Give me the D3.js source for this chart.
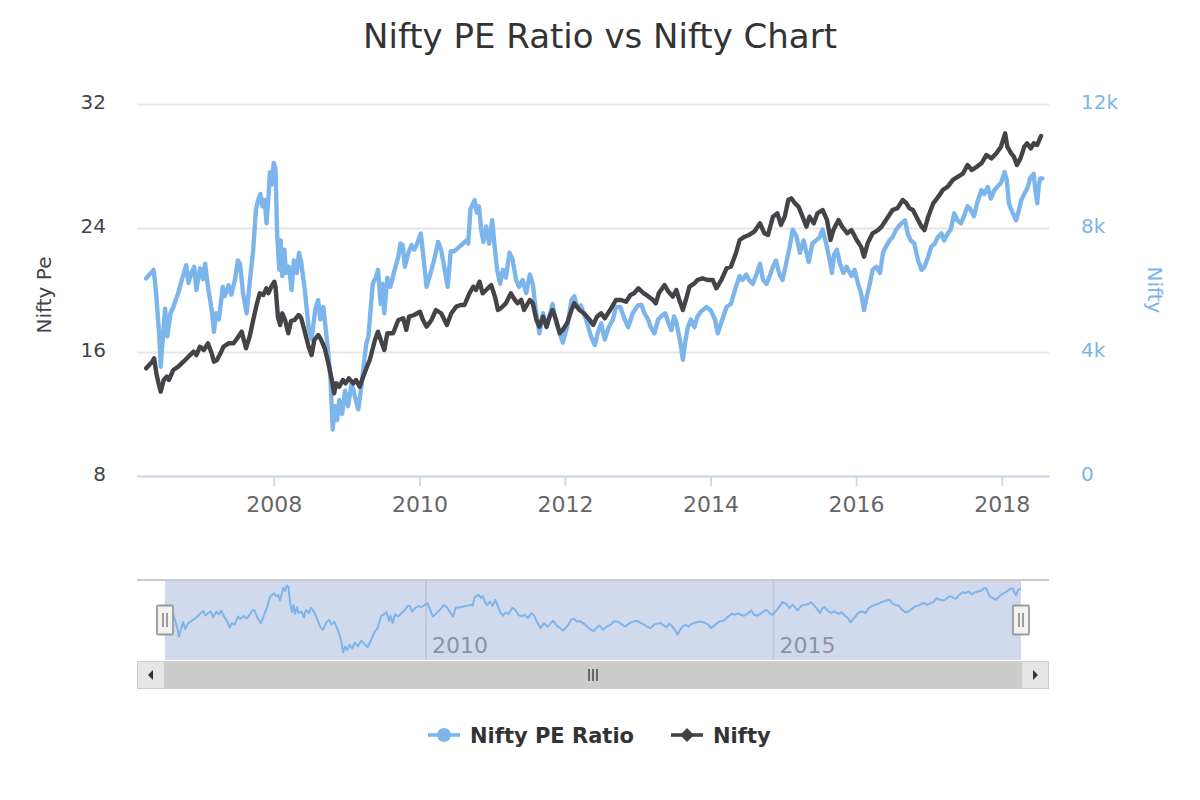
<!DOCTYPE html>
<html><head><meta charset="utf-8">
<script src="https://cdn.jsdelivr.net/npm/d3@7/dist/d3.min.js"></script>
<style>
body{margin:0;background:#fff;}
text{font-family:"DejaVu Sans",Verdana,sans-serif;}
</style>
</head><body>
<svg id="chart" width="1200" height="800"></svg>
<script>
// ---------------- DATA ----------------
const chartTitle = "Nifty PE Ratio vs Nifty Chart";
const seriesNames = ["Nifty PE Ratio", "Nifty"];
const leftAxisTitle = "Nifty Pe";
const rightAxisTitle = "Nifty";

const peDates = [
"2006-04-01","2006-05-08","2006-05-15","2006-05-22","2006-06-06","2006-06-13","2006-06-24","2006-07-05","2006-07-16","2006-08-01","2006-08-15","2006-09-09","2006-09-27","2006-10-19","2006-10-30","2006-11-14","2006-11-28","2006-12-09","2006-12-27",
"2007-01-11","2007-01-22","2007-02-05","2007-02-24","2007-03-07","2007-03-18","2007-04-01","2007-04-20","2007-04-30","2007-05-19","2007-06-02","2007-06-21","2007-07-05","2007-07-16","2007-07-31","2007-08-18","2007-09-02","2007-09-20","2007-10-04","2007-10-15","2007-10-26","2007-11-06","2007-11-17","2007-11-26","2007-12-05","2007-12-13","2007-12-23",
"2008-01-01","2008-01-10","2008-01-18","2008-01-29","2008-02-05","2008-02-13","2008-02-24","2008-03-02","2008-03-17","2008-03-31","2008-04-11","2008-04-26","2008-05-07","2008-05-18","2008-06-05","2008-06-24","2008-07-09","2008-07-27","2008-08-11","2008-08-22","2008-09-06","2008-09-17","2008-10-01","2008-10-12","2008-10-23","2008-11-03","2008-11-14","2008-11-25","2008-12-09","2008-12-24",
"2009-01-08","2009-01-26","2009-02-10","2009-02-28","2009-03-15","2009-03-29","2009-04-09","2009-04-20","2009-05-12","2009-05-27","2009-06-07","2009-06-21","2009-06-29","2009-07-09","2009-07-24","2009-08-08","2009-08-30","2009-09-17","2009-09-28","2009-10-09","2009-10-20","2009-11-07","2009-11-22","2009-12-06","2009-12-21",
"2010-01-08","2010-01-19","2010-02-06","2010-02-24","2010-03-15","2010-04-05","2010-04-20","2010-05-08","2010-05-23","2010-06-07","2010-06-25","2010-07-13","2010-08-08","2010-08-26","2010-09-03","2010-09-14","2010-10-05","2010-10-16","2010-10-27","2010-11-07","2010-11-18","2010-12-02","2010-12-17",
"2011-01-01","2011-01-12","2011-01-26","2011-02-10","2011-02-24","2011-03-11","2011-03-29","2011-04-13","2011-05-01","2011-05-16","2011-06-03","2011-06-21","2011-07-09","2011-07-24","2011-08-08","2011-08-26","2011-09-13","2011-10-01","2011-10-16","2011-10-31","2011-11-18","2011-12-06","2011-12-21",
"2012-01-12","2012-02-03","2012-02-17","2012-03-03","2012-03-21","2012-04-16","2012-05-11","2012-05-30","2012-06-13","2012-07-01","2012-07-19","2012-08-08","2012-08-29","2012-09-13","2012-10-05","2012-10-27","2012-11-14","2012-12-06",
"2013-01-01","2013-01-19","2013-02-03","2013-02-21","2013-03-07","2013-03-25","2013-04-13","2013-04-27","2013-05-19","2013-06-03","2013-06-18","2013-07-02","2013-07-13","2013-07-31","2013-08-15","2013-08-26","2013-09-09","2013-09-24","2013-10-12","2013-10-27","2013-11-14","2013-12-10",
"2014-01-01","2014-01-23","2014-02-06","2014-02-24","2014-03-22","2014-04-13","2014-05-08","2014-05-27","2014-06-10","2014-06-29","2014-07-13","2014-07-31","2014-08-19","2014-09-06","2014-09-21","2014-10-09","2014-10-27","2014-11-10","2014-11-25","2014-12-13","2014-12-28",
"2015-01-15","2015-02-02","2015-02-17","2015-03-07","2015-03-25","2015-04-13","2015-05-08","2015-05-27","2015-07-02","2015-07-17","2015-08-04","2015-08-22","2015-09-02","2015-09-13","2015-09-27","2015-10-12","2015-10-30","2015-11-14","2015-12-09","2015-12-24",
"2016-01-11","2016-01-26","2016-02-10","2016-02-24","2016-03-10","2016-03-24","2016-04-12","2016-04-30","2016-05-15","2016-05-30","2016-06-17","2016-07-02","2016-07-20","2016-08-15","2016-09-02","2016-09-17","2016-10-01","2016-10-19","2016-11-07","2016-11-25","2016-12-09","2016-12-28",
"2017-01-12","2017-01-30","2017-02-14","2017-03-04","2017-03-18","2017-04-05","2017-04-20","2017-05-08","2017-05-23","2017-06-10","2017-06-25","2017-07-13","2017-07-28","2017-08-15","2017-08-30","2017-09-21","2017-10-05","2017-10-23","2017-11-07","2017-11-25","2017-12-09","2017-12-28",
"2018-01-15","2018-01-26","2018-02-06","2018-02-17","2018-03-03","2018-03-14","2018-03-29","2018-04-09","2018-04-24","2018-05-12","2018-05-23","2018-06-10","2018-06-17","2018-06-28","2018-07-05","2018-07-13","2018-07-24"
];
const peValues = [
20.75,21.3,20.6,19.6,17.0,15.05,17.0,18.8,17.0,18.5,18.9,19.8,20.65,21.6,20.45,21.1,21.5,20.0,21.4,
20.7,21.7,20.2,18.7,17.3,18.5,18.1,20.2,19.6,20.3,19.7,20.7,21.9,21.7,19.8,18.5,20.4,22.6,25.2,25.8,26.2,25.4,25.8,24.3,25.9,27.6,26.8,
28.2,27.8,23.65,21.3,23.2,20.9,22.6,21.1,21.5,20.0,21.9,21.1,22.4,21.8,20.0,17.6,16.8,18.7,19.35,18.1,18.9,17.6,15.9,14.2,11.0,12.5,11.6,12.9,12.0,13.5,
12.5,14.0,13.2,12.3,13.7,15.3,16.5,17.0,20.4,20.8,21.3,19.1,20.4,18.5,20.8,20.2,21.3,22.15,23.0,22.9,21.5,22.4,22.9,22.6,23.0,
23.65,22.4,20.2,21.0,21.9,23.1,22.6,21.3,20.2,22.5,22.5,22.7,23.0,23.2,23.0,25.2,25.8,25.0,25.4,23.9,23.1,24.1,23.0,
24.5,23.0,21.3,20.4,21.3,20.8,22.4,22.0,20.65,20.2,20.65,19.8,21.0,20.4,18.7,17.2,18.5,17.6,18.3,19.1,17.9,17.2,16.6,
17.6,19.35,19.6,18.9,19.0,18.1,17.0,16.45,17.2,17.85,16.8,17.6,18.1,18.9,18.9,18.1,17.6,18.5,
19.0,19.05,18.5,18.1,17.6,17.2,18.1,18.3,18.5,17.9,17.4,18.3,17.9,16.8,15.5,16.6,17.6,18.1,17.6,18.3,18.6,18.9,
18.7,18.1,17.2,17.9,18.9,19.1,20.2,20.9,20.65,21.0,20.65,20.4,21.0,21.7,20.65,20.4,21.0,21.5,21.9,21.0,20.65,
21.7,22.8,23.9,23.5,22.4,23.2,21.8,23.0,23.4,23.9,23.0,21.9,21.1,22.3,22.6,21.7,21.1,21.5,20.9,21.3,
20.4,19.8,18.7,19.6,20.4,21.3,21.5,21.1,22.4,22.8,23.2,23.4,23.9,24.3,24.5,23.6,23.2,23.0,21.9,21.3,21.5,22.15,
22.8,23.0,23.4,23.65,23.2,23.65,23.9,24.95,24.5,24.3,24.75,25.4,25.2,24.75,25.6,26.45,26.2,26.65,25.9,26.45,26.65,26.9,
27.6,27.1,25.6,25.2,24.8,24.5,25.2,25.8,26.2,26.65,27.2,27.5,26.65,25.6,26.65,27.2,27.2
];

const niftyDates = [
"2006-04-01","2006-05-01","2006-05-11","2006-05-22","2006-06-02","2006-06-13","2006-06-28","2006-07-13","2006-07-24","2006-08-15","2006-09-09","2006-10-05","2006-10-30","2006-11-25","2006-12-09","2006-12-27",
"2007-01-15","2007-02-05","2007-02-24","2007-03-07","2007-03-22","2007-04-09","2007-04-24","2007-05-19","2007-06-14","2007-07-02","2007-07-24","2007-08-15","2007-09-02","2007-09-20","2007-10-09","2007-10-23","2007-11-10","2007-11-25","2007-12-05","2007-12-20",
"2008-01-04","2008-01-10","2008-01-22","2008-02-02","2008-02-13","2008-02-27","2008-03-14","2008-03-28","2008-04-15","2008-05-05","2008-05-18","2008-06-05","2008-06-24","2008-07-09","2008-07-23","2008-08-11","2008-08-26","2008-09-13","2008-10-01","2008-10-19","2008-10-30","2008-11-10","2008-11-25","2008-12-13","2008-12-27",
"2009-01-12","2009-02-03","2009-02-17","2009-03-07","2009-03-25","2009-04-13","2009-04-27","2009-05-23","2009-06-07","2009-06-21","2009-07-09","2009-07-24","2009-08-22","2009-09-17","2009-10-12","2009-10-27","2009-11-10","2009-12-06",
"2010-01-04","2010-01-19","2010-02-06","2010-03-03","2010-03-25","2010-04-20","2010-05-19","2010-06-10","2010-07-05","2010-07-27","2010-08-15","2010-09-09","2010-09-28","2010-10-12","2010-10-30","2010-11-14","2010-12-02","2010-12-27",
"2011-01-15","2011-01-30","2011-02-13","2011-03-11","2011-04-05","2011-04-20","2011-05-08","2011-05-27","2011-06-10","2011-07-09","2011-07-24","2011-08-11","2011-08-26","2011-09-13","2011-10-01","2011-10-16","2011-10-31","2011-11-18","2011-12-06","2011-12-21",
"2012-01-12","2012-02-03","2012-02-17","2012-03-14","2012-04-05","2012-05-05","2012-05-22","2012-06-10","2012-07-01","2012-07-19","2012-08-15","2012-09-13","2012-10-09","2012-11-03","2012-11-25","2012-12-13",
"2013-01-04","2013-01-30","2013-02-13","2013-03-18","2013-04-01","2013-04-16","2013-05-15","2013-06-03","2013-06-25","2013-07-13","2013-07-28","2013-08-15","2013-08-30","2013-09-17","2013-10-12","2013-10-27","2013-11-22","2013-12-17",
"2014-01-12","2014-01-30","2014-02-24","2014-03-22","2014-04-13","2014-05-08","2014-05-27","2014-06-21","2014-07-13","2014-08-08","2014-09-06","2014-09-28","2014-10-16","2014-11-10","2014-12-02","2014-12-20",
"2015-01-08","2015-01-26","2015-02-10","2015-02-28","2015-03-18","2015-04-01","2015-04-27","2015-05-12","2015-06-03","2015-06-21","2015-07-17","2015-08-08","2015-08-26","2015-09-09","2015-10-05","2015-10-23","2015-11-18","2015-12-09",
"2016-01-04","2016-01-26","2016-02-10","2016-02-28","2016-03-24","2016-04-20","2016-05-08","2016-05-30","2016-07-02","2016-07-27","2016-08-22","2016-09-09","2016-09-24","2016-10-12","2016-11-07","2016-11-25","2016-12-09","2016-12-28",
"2017-01-22","2017-02-17","2017-03-11","2017-04-05","2017-05-01","2017-05-27","2017-06-21","2017-07-13","2017-08-04","2017-08-30","2017-09-21","2017-10-16","2017-11-10","2017-12-05","2017-12-28",
"2018-01-18","2018-01-29","2018-02-17","2018-03-03","2018-03-18","2018-04-05","2018-04-24","2018-05-08","2018-05-27","2018-06-10","2018-06-28","2018-07-17"
];
const niftyValues = [
3474,3687,3797,3313,2990,2720,3097,3203,3097,3420,3526,3687,3849,4010,3900,4171,
4065,4280,3950,3687,3740,3957,4171,4280,4280,4442,4656,4120,4494,5033,5571,5894,5840,6055,5894,6107,
6268,6107,5139,4871,5248,5033,4604,5000,5033,5194,5090,4656,4171,3903,4388,4549,4388,4120,3636,3097,2668,2990,2880,3097,2990,
3150,2990,3097,2880,3200,3526,3742,4388,4656,4388,4065,4604,4604,5033,5087,4710,5139,5194,
5300,5033,4817,5033,5355,5250,4871,5250,5462,5516,5516,5894,6107,6000,6268,5894,6000,6162,
5787,5355,5410,5571,5894,5730,5571,5680,5355,5678,5571,5033,4817,5139,4817,5139,5355,5033,4604,4710,
4925,5355,5571,5355,5250,5033,4871,5139,5250,5087,5355,5678,5678,5620,5840,5894,
6055,5894,5840,5678,5571,5894,6162,5950,5787,6000,5678,5355,5678,6107,6213,6323,6377,6323,
6323,6055,6323,6700,6750,7185,7613,7720,7775,7880,8152,7830,7775,8366,8473,8100,
8366,8904,8958,8800,8690,8473,8043,8366,8150,8475,8581,8260,7613,7933,8260,8043,7830,7933,
7613,7398,7075,7505,7830,7933,8043,8260,8581,8640,8904,8800,8640,8581,8260,8043,7933,8366,
8797,9010,9227,9333,9550,9660,9765,10033,9870,9980,10088,10355,10245,10410,10623,
11055,10623,10410,10300,10033,10245,10623,10730,10570,10730,10680,10968
];

const peTicks = [8, 16, 24, 32];
const niftyTicks = [0, 4000, 8000, 12000];
const xTickDates = ["2008-01-01","2010-01-01","2012-01-01","2014-01-01","2016-01-01","2018-01-01"];
const navTickDates = ["2010-01-01","2015-01-01"];
const xDomain = ["2006-02-14","2018-08-26"];

// ---------------- CHART ----------------
const parse = d3.timeParse("%Y-%m-%d");
const pe = peDates.map((d, i) => ({ date: parse(d), v: peValues[i] }));
const nifty = niftyDates.map((d, i) => ({ date: parse(d), v: niftyValues[i] }));

const blue = "#7cb5ec", dark = "#434348";
const P = { l: 137, r: 1049, t: 104, b: 476 };
const svg = d3.select("#chart");

const x = d3.scaleTime().domain(xDomain.map(parse)).range([P.l, P.r]);
const yL = d3.scaleLinear().domain([8, 32]).range([P.b, P.t]);
const yR = d3.scaleLinear().domain([0, 12000]).range([P.b, P.t]);

// title
svg.append("text").attr("x", 600).attr("y", 48).attr("text-anchor", "middle")
  .attr("font-size", 34).attr("fill", "#333333").text(chartTitle);

// grid lines
svg.append("g").selectAll("line").data(peTicks).join("line")
  .attr("x1", P.l).attr("x2", P.r)
  .attr("y1", d => Math.round(yL(d)) + 0.5).attr("y2", d => Math.round(yL(d)) + 0.5)
  .attr("stroke", "#e6e6e6").attr("stroke-width", 1.8);

// left axis
const gL = svg.append("g").attr("transform", `translate(${P.l},0)`)
  .call(d3.axisLeft(yL).tickValues(peTicks).tickSize(0).tickPadding(31));
gL.select(".domain").remove();
gL.selectAll("text").attr("font-size", 20).attr("fill", dark).attr("dy", "0.2em")
  .attr("font-family", "DejaVu Sans");

// right axis
const gR = svg.append("g").attr("transform", `translate(${P.r},0)`)
  .call(d3.axisRight(yR).tickValues(niftyTicks).tickSize(0).tickPadding(32)
    .tickFormat(d => d === 0 ? "0" : (d / 1000) + "k"));
gR.select(".domain").remove();
gR.selectAll("text").attr("font-size", 20).attr("fill", blue).attr("dy", "0.2em")
  .attr("font-family", "DejaVu Sans");

// axis titles
svg.append("text").attr("transform", "translate(44,295) rotate(-90)")
  .attr("text-anchor", "middle").attr("dy", "0.35em").attr("font-size", 20)
  .attr("fill", dark).text(leftAxisTitle);
svg.append("text").attr("transform", "translate(1155,290) rotate(90)")
  .attr("text-anchor", "middle").attr("dy", "0.35em").attr("font-size", 20)
  .attr("fill", blue).text(rightAxisTitle);

// x axis
const gX = svg.append("g").attr("transform", `translate(0,${P.b})`)
  .call(d3.axisBottom(x).tickValues(xTickDates.map(parse)).tickSizeInner(10).tickSizeOuter(0).tickPadding(10)
    .tickFormat(d3.timeFormat("%Y")));
gX.select(".domain").attr("stroke", "#ccd6eb").attr("stroke-width", 1.8);
gX.selectAll(".tick line").attr("stroke", "#ccd6eb").attr("stroke-width", 1.8);
gX.selectAll("text").attr("font-size", 22).attr("fill", "#666666").attr("font-family", "DejaVu Sans");

// series
svg.append("clipPath").attr("id", "clip").append("rect")
  .attr("x", P.l).attr("y", P.t - 10).attr("width", P.r - P.l).attr("height", P.b - P.t + 10);
const linePE = d3.line().x(d => x(d.date)).y(d => yL(d.v));
const lineN = d3.line().x(d => x(d.date)).y(d => yR(d.v));
const gS = svg.append("g").attr("clip-path", "url(#clip)");
gS.append("path").datum(pe).attr("d", linePE).attr("fill", "none")
  .attr("stroke", blue).attr("stroke-width", 4.4).attr("stroke-linejoin", "round").attr("stroke-linecap", "round");
gS.append("path").datum(nifty).attr("d", lineN).attr("fill", "none")
  .attr("stroke", dark).attr("stroke-width", 4.4).attr("stroke-linejoin", "round").attr("stroke-linecap", "round");

// ---------------- NAVIGATOR ----------------
const N = { l: 165, r: 1021, t: 580, b: 660, outerL: 137, outerR: 1049 };
const xN = d3.scaleTime().domain(d3.extent(pe, d => d.date)).range([N.l, N.r]);
const yN = d3.scaleLinear().domain([9, 29.6]).range([N.b, N.t]);

const navTicks = navTickDates.map(parse);
svg.append("g").selectAll("line").data(navTicks).join("line")
  .attr("x1", d => xN(d)).attr("x2", d => xN(d)).attr("y1", N.t).attr("y2", N.b)
  .attr("stroke", "#e6e6e6").attr("stroke-width", 1.8);
svg.append("g").selectAll("text").data(navTicks).join("text")
  .attr("x", d => xN(d) + 6).attr("y", N.b - 7).attr("font-size", 22).attr("fill", "#999999")
  .text(d3.timeFormat("%Y"));
svg.append("rect").attr("x", N.l).attr("y", N.t).attr("width", N.r - N.l).attr("height", N.b - N.t)
  .attr("fill", "rgba(102,133,194,0.3)");
svg.append("path").datum(pe).attr("fill", "none").attr("stroke", blue).attr("stroke-width", 2)
  .attr("stroke-linejoin", "round")
  .attr("d", d3.line().x(d => xN(d.date)).y(d => yN(d.v)));
svg.append("line").attr("x1", N.outerL).attr("x2", N.outerR).attr("y1", N.t).attr("y2", N.t)
  .attr("stroke", "#cccccc").attr("stroke-width", 2);

// handles
[N.l, N.r].forEach(hx => {
  const g = svg.append("g").attr("transform", `translate(${hx},620)`);
  g.append("rect").attr("x", -8).attr("y", -14.5).attr("width", 16).attr("height", 29)
    .attr("fill", "#f2f2f2").attr("stroke", "#999999").attr("stroke-width", 1.8).attr("rx", 1);
  [-2, 2].forEach(dx => g.append("line").attr("x1", dx).attr("x2", dx).attr("y1", -7).attr("y2", 7)
    .attr("stroke", "#666666").attr("stroke-width", 1.2));
});

// scrollbar
const S = { t: 661, h: 28 };
svg.append("rect").attr("x", N.outerL).attr("y", S.t).attr("width", N.outerR - N.outerL).attr("height", S.h)
  .attr("fill", "#f2f2f2");
svg.append("rect").attr("x", N.l).attr("y", S.t).attr("width", N.r - N.l).attr("height", S.h)
  .attr("fill", "#cccccc");
[[N.outerL, -1], [N.r, 1]].forEach(([bx, dir]) => {
  svg.append("rect").attr("x", bx + 0.5).attr("y", S.t + 0.5).attr("width", 27).attr("height", S.h - 1)
    .attr("fill", "#e6e6e6").attr("stroke", "#cccccc").attr("stroke-width", 1);
  const cx = bx + 14, cy = S.t + S.h / 2;
  svg.append("path").attr("d", `M${cx - 2 * dir},${cy - 5} L${cx + 3 * dir},${cy} L${cx - 2 * dir},${cy + 5} Z`)
    .attr("fill", "#333333");
});
const rc = (N.l + N.r) / 2;
[-4, 0, 4].forEach(dx => svg.append("line").attr("x1", rc + dx).attr("x2", rc + dx)
  .attr("y1", S.t + 8).attr("y2", S.t + 20).attr("stroke", "#333333").attr("stroke-width", 1.3));

// ---------------- LEGEND ----------------
const legY = 735;
const lg1 = svg.append("g");
lg1.append("line").attr("x1", 428).attr("x2", 460).attr("y1", legY).attr("y2", legY)
  .attr("stroke", blue).attr("stroke-width", 3.6);
lg1.append("circle").attr("cx", 444).attr("cy", legY).attr("r", 7).attr("fill", blue);
lg1.append("text").attr("x", 470).attr("y", legY + 8).attr("font-size", 21).attr("font-weight", "bold")
  .attr("fill", "#333333").text(seriesNames[0]);
const lg2 = svg.append("g");
lg2.append("line").attr("x1", 671).attr("x2", 703).attr("y1", legY).attr("y2", legY)
  .attr("stroke", dark).attr("stroke-width", 3.6);
lg2.append("path").attr("d", `M687,${legY - 7} L694,${legY} L687,${legY + 7} L680,${legY} Z`).attr("fill", dark);
lg2.append("text").attr("x", 713).attr("y", legY + 8).attr("font-size", 21).attr("font-weight", "bold")
  .attr("fill", "#333333").text(seriesNames[1]);
</script>
</body></html>
